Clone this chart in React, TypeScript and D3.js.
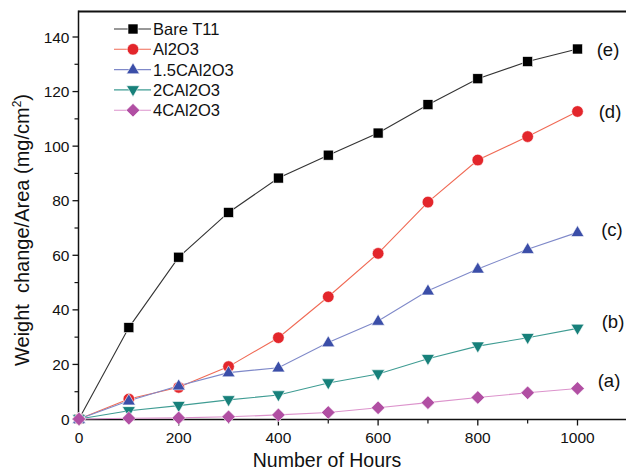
import React from "react";
import * as d3 from "d3";

const hours = [0, 100, 200, 300, 400, 500, 600, 700, 800, 900, 1000];
const bareT11 = [0, 33.5, 59.3, 75.7, 88.3, 96.7, 104.8, 115.2, 124.7, 131.0, 135.6];
const al2o3 = [0, 7.3, 11.6, 19.2, 29.8, 44.8, 60.7, 79.5, 94.9, 103.5, 112.7];
const c15al2o3 = [0, 6.7, 12.2, 17.0, 18.8, 28.0, 35.9, 47.0, 55.0, 62.2, 68.4];
const c2al2o3 = [0, 3.0, 4.9, 7.0, 8.8, 13.2, 16.5, 22.1, 26.7, 29.8, 33.2];
const c4al2o3 = [0, 0.3, 0.4, 0.8, 1.5, 2.4, 4.1, 6.0, 7.9, 9.6, 11.2];
const seriesNames = ["Bare T11", "Al2O3", "1.5CAl2O3", "2CAl2O3", "4CAl2O3"];
const curveLabels = ["(e)", "(d)", "(c)", "(b)", "(a)"];
const xTicks = [0, 200, 400, 600, 800, 1000];
const yTicks = [0, 20, 40, 60, 80, 100, 120, 140];

const W = 626;
const H = 472;
const FONT = "'Liberation Sans', Arial, sans-serif";

type Shape = "square" | "circle" | "triangle" | "triangleDown" | "diamond";

const styles: { line: string; fill: string; shape: Shape }[] = [
  { line: "#333333", fill: "#000000", shape: "square" },
  { line: "#f06a55", fill: "#e3262b", shape: "circle" },
  { line: "#7f89c9", fill: "#3b4ea8", shape: "triangle" },
  { line: "#3f9c93", fill: "#17807a", shape: "triangleDown" },
  { line: "#dc93cc", fill: "#b14fa3", shape: "diamond" },
];

function Marker({ shape, x, y, fill }: { shape: Shape; x: number; y: number; fill: string }) {
  const stroke = "#ffffff";
  const sw = 0.6;
  if (shape === "square") {
    const s = 10;
    return <rect x={x - s / 2} y={y - s / 2} width={s} height={s} fill={fill} stroke={stroke} strokeWidth={sw} />;
  }
  if (shape === "circle") {
    return <circle cx={x} cy={y} r={5.8} fill={fill} stroke={stroke} strokeWidth={sw} />;
  }
  if (shape === "triangle") {
    const h = 11, w = 13;
    const pts = `${x},${y - h * 0.62} ${x + w / 2},${y + h * 0.38} ${x - w / 2},${y + h * 0.38}`;
    return <polygon points={pts} fill={fill} stroke={stroke} strokeWidth={sw} />;
  }
  if (shape === "triangleDown") {
    const h = 11, w = 13;
    const pts = `${x},${y + h * 0.62} ${x + w / 2},${y - h * 0.38} ${x - w / 2},${y - h * 0.38}`;
    return <polygon points={pts} fill={fill} stroke={stroke} strokeWidth={sw} />;
  }
  const r = 6.8;
  const pts = `${x},${y - r} ${x + r},${y} ${x},${y + r} ${x - r},${y}`;
  return <polygon points={pts} fill={fill} stroke={stroke} strokeWidth={sw} />;
}

export default function App() {
  const x = d3.scaleLinear().domain([0, 1000]).range([79, 577.5]);
  const y = d3.scaleLinear().domain([0, 140]).range([419, 37]);
  const axisLeft = 78.5;
  const axisBottom = 419.5;
  const frameTop = 11.5;
  const data = [bareT11, al2o3, c15al2o3, c2al2o3, c4al2o3];
  const line = d3
    .line<number>()
    .x((_, i) => x(hours[i]))
    .y((d) => y(d));

  const xMinor = d3.range(100, 1100, 200);
  const yMinor = d3.range(10, 150, 20);
  const labelPos = [
    { x: 608, v: bareT11[10] },
    { x: 610, v: al2o3[10] },
    { x: 612, v: c15al2o3[10] + 1 },
    { x: 613, v: c2al2o3[10] + 2.5 },
    { x: 609, v: c4al2o3[10] + 3 },
  ];

  return (
    <svg
      width={W}
      height={H}
      style={{ position: "absolute", left: 0, top: 0, background: "#fff" }}
      fontFamily={FONT}
    >
      <rect x={0} y={0} width={W} height={H} fill="#fff" />
      {/* frame */}
      <line x1={axisLeft} x2={W} y1={frameTop} y2={frameTop} stroke="#111" strokeWidth={1.8} />
      <line x1={axisLeft} x2={axisLeft} y1={frameTop - 0.9} y2={axisBottom} stroke="#111" strokeWidth={1.5} />
      <line x1={axisLeft} x2={W} y1={axisBottom} y2={axisBottom} stroke="#111" strokeWidth={1.5} />

      {/* x ticks */}
      {xTicks.map((t) => (
        <g key={"xt" + t}>
          <line x1={x(t)} x2={x(t)} y1={axisBottom} y2={axisBottom + 6} stroke="#111" strokeWidth={1.3} />
          <text x={x(t)} y={axisBottom + 23} textAnchor="middle" fontSize={15.5} fill="#111">
            {t}
          </text>
        </g>
      ))}
      {xMinor.map((t) => (
        <line key={"xm" + t} x1={x(t)} x2={x(t)} y1={axisBottom} y2={axisBottom + 4} stroke="#111" strokeWidth={1.2} />
      ))}

      {/* y ticks */}
      {yTicks.map((t) => (
        <g key={"yt" + t}>
          <line x1={axisLeft - 6} x2={axisLeft} y1={y(t)} y2={y(t)} stroke="#111" strokeWidth={1.3} />
          <text x={axisLeft - 9} y={y(t) + 5.5} textAnchor="end" fontSize={15.5} fill="#111">
            {t}
          </text>
        </g>
      ))}
      {yMinor.map((t) => (
        <line key={"ym" + t} x1={axisLeft - 4} x2={axisLeft} y1={y(t)} y2={y(t)} stroke="#111" strokeWidth={1.2} />
      ))}

      {/* axis titles */}
      <text x={327} y={467} textAnchor="middle" fontSize={19.5} fill="#111">
        Number of Hours
      </text>
      <text
        transform={`translate(29, ${230}) rotate(-90)`}
        textAnchor="middle"
        fontSize={20}
        fill="#111"
        style={{ whiteSpace: "pre" }}
      >
        {"Weight  change/Area (mg/cm"}
        <tspan fontSize={12} dy={-8}>2</tspan>
        <tspan dy={8}>)</tspan>
      </text>

      {/* series lines */}
      {data.map((d, i) => (
        <path key={"l" + i} d={line(d) || ""} fill="none" stroke={styles[i].line} strokeWidth={1.1} />
      ))}
      {/* markers */}
      {data.map((d, i) => (
        <g key={"m" + i}>
          {d.map((v, j) => (
            <Marker key={j} shape={styles[i].shape} x={x(hours[j])} y={y(v)} fill={styles[i].fill} />
          ))}
        </g>
      ))}

      {/* curve labels */}
      {curveLabels.map((lab, i) => (
        <text key={lab} x={labelPos[i].x} y={y(labelPos[i].v) + 6.5} textAnchor="middle" fontSize={18.5} fill="#111">
          {lab}
        </text>
      ))}

      {/* legend */}
      {seriesNames.map((name, i) => {
        const ly = 29 + i * 20.3;
        return (
          <g key={"lg" + i}>
            <line x1={114} x2={151} y1={ly} y2={ly} stroke={styles[i].line} strokeWidth={1.1} />
            <Marker shape={styles[i].shape} x={133} y={ly} fill={styles[i].fill} />
            <text x={153} y={ly + 6} fontSize={16.5} fill="#111">
              {name}
            </text>
          </g>
        );
      })}
    </svg>
  );
}
